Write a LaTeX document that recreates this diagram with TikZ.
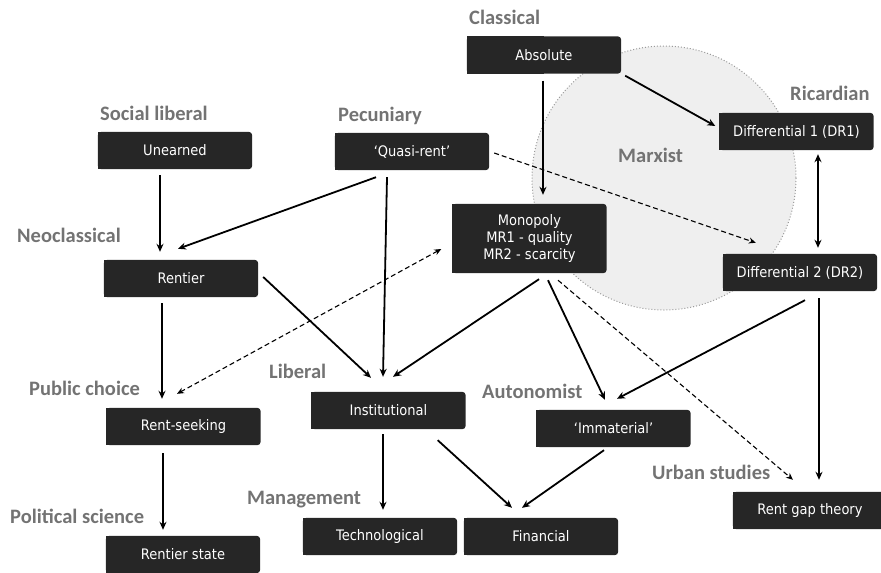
\documentclass[tikz,border=0pt]{standalone}
\usepackage{fontspec}
\setmainfont{Carlito}
\newfontfamily\boxfont{DejaVu Sans Condensed}
\usetikzlibrary{arrows.meta,calc,backgrounds}

\definecolor{boxgray}{HTML}{262626}
\definecolor{schoolgray}{HTML}{737373}
\definecolor{marxfill}{HTML}{EFEFEF}
\definecolor{marxline}{HTML}{9A9A9A}

\tikzset{
    rentbox/.style={text=white, minimum width=154pt, minimum height=37pt,
        inner sep=2pt, align=center, font=\boxfont\fontsize{14.5}{17}\selectfont},
    school/.style={anchor=base west, inner sep=0pt, text=schoolgray,
        font=\bfseries\fontsize{20.5}{22}\selectfont},
    link/.style={line width=1.8pt, -{Stealth[length=8pt,width=7pt]}},
    hint/.style={line width=1.1pt, dash pattern=on 5pt off 3pt,
        -{Stealth[length=7pt,width=6pt]}}
}

\begin{document}
\begin{tikzpicture}[x=1pt,y=-1pt]
        \useasboundingbox (0,0) rectangle (881,573);
        % marxist area
        \begin{scope}[on background layer]
        \draw[marxline, fill=marxfill, line width=1pt, dotted] (664,178) circle (132);
        \end{scope}
        % boxes
        \node[rentbox] (absolute) at (544,55) {Absolute};
        \node[rentbox] (dri) at (796.5,131.5) {Differential 1 (DR1)};
        \node[rentbox] (drii) at (800,272.5) {Differential 2 (DR2)};
        \node[rentbox, minimum height=69pt] (monopoly) at (529.5,238.5)
            {Monopoly\\MR1 - quality\\MR2 - scarcity};
        \node[rentbox] (quasi) at (412,151.5) {‘Quasi-rent’};
        \node[rentbox] (unearned) at (175,150.5) {Unearned};
        \node[rentbox] (rentier) at (181,278.5) {Rentier};
        \node[rentbox] (seeking) at (183.5,426.5) {Rent-seeking};
        \node[rentbox] (state) at (183,554.5) {Rentier state};
        \node[rentbox] (institutional) at (388.5,410.5) {Institutional};
        \node[rentbox] (technological) at (380,536.5) {Technological};
        \node[rentbox] (financial) at (541,536.5) {Financial};
        \node[rentbox] (immaterial) at (613.5,428.5) {‘Immaterial’};
        \node[rentbox] (rentgap) at (810,510.5) {Rent gap theory};
        % box fills: square on the left, rounded on the right
        \begin{scope}[on background layer]
        \foreach \b in {absolute,dri,drii,monopoly,quasi,unearned,rentier,seeking,
                state,institutional,technological,financial,immaterial,rentgap} {
            \fill[boxgray, rounded corners=3.5pt] (\b.north west) rectangle (\b.south east);
            \fill[boxgray] (\b.north west) rectangle (\b.south);
        }
        \end{scope}
        % schools
        \node[school] (classical) at (469,24) {Classical};
        \node[school] (ricardian) at (790,100) {Ricardian};
        \node[school] (marxist) at (618,162) {Marxist};
        \node[school] (socliberal) at (100,120) {Social liberal};
        \node[school] (pecuniary) at (338,121) {Pecuniary};
        \node[school] (neoclassical) at (17,242) {Neoclassical};
        \node[school] (pubchoice) at (29,395) {Public choice};
        \node[school] (liberal) at (269,378) {Liberal};
        \node[school] (autonomist) at (482,398) {Autonomist};
        \node[school] (urban) at (652,479) {Urban studies};
        \node[school] (management) at (247,504) {Management};
        \node[school] (polscience) at (10,523) {Political science};
        % solid links
        \draw[link] ($(absolute.south)+(-1,7)$) -- ($(monopoly.north)+(13.5,-9)$);
        \draw[link] ($(absolute.south east)+(4,2)$) -- ($(dri.west)+(-4,-5.5)$);
        \draw[link, {Stealth[length=8pt,width=7pt]}-{Stealth[length=8pt,width=7pt]}]
            ($(dri.south)+(21.5,4)$) -- ($(drii.north)+(18,-6)$);
        \draw[link] ($(unearned.south)+(-15,6)$) -- ($(rentier.north)+(-21,-8)$);
        \draw[link] ($(quasi.south)+(-36,7)$) -- ($(rentier.north)+(-3,-11)$);
        \draw[link] ($(quasi.south)+(-25,7)$) -- ($(institutional.north)+(-5.5,-15)$);
        \draw[link] ($(rentier.east)+(5,-1.5)$) -- ($(institutional.north)+(-17.5,-14)$);
        \draw[link] ($(monopoly.south)+(9.5,6)$) -- ($(institutional.north)+(4.5,-15)$);
        \draw[link] ($(rentier.south)+(-19,6)$) -- ($(seeking.north)+(-21.5,-9)$);
        \draw[link] ($(seeking.south)+(-20.5,8)$) -- ($(state.north)+(-20,-6)$);
        \draw[link] ($(institutional.south)+(-5.5,5)$) -- ($(technological.north)+(3,-8)$);
        \draw[link] ($(institutional.south east)+(-28,11)$) -- ($(financial.north)+(-29,-10)$);
        \draw[link] ($(immaterial.south)+(-9.5,3)$) -- ($(financial.north)+(-19,-10)$);
        \draw[link] ($(monopoly.south)+(18.5,7)$) -- ($(immaterial.north)+(-8.5,-10)$);
        \draw[link] ($(drii.south)+(5,9)$) -- ($(immaterial.north)+(3.5,-11)$);
        \draw[link] ($(drii.south)+(19,7)$) -- ($(rentgap.north)+(9,-12)$);
        % dashed links
        \draw[hint] ($(quasi.east)+(5,1.5)$) -- ($(drii.north west)+(33,-11)$);
        \draw[hint, {Stealth[length=7pt,width=6pt]}-{Stealth[length=7pt,width=6pt]}]
            ($(monopoly.west)+(-11,10.5)$) -- ($(seeking.north)+(-6.5,-14)$);
        \draw[hint] ($(monopoly.south)+(28.5,7)$) -- ($(rentgap.north)+(-17,-12)$);
    \end{tikzpicture}
\end{document}
